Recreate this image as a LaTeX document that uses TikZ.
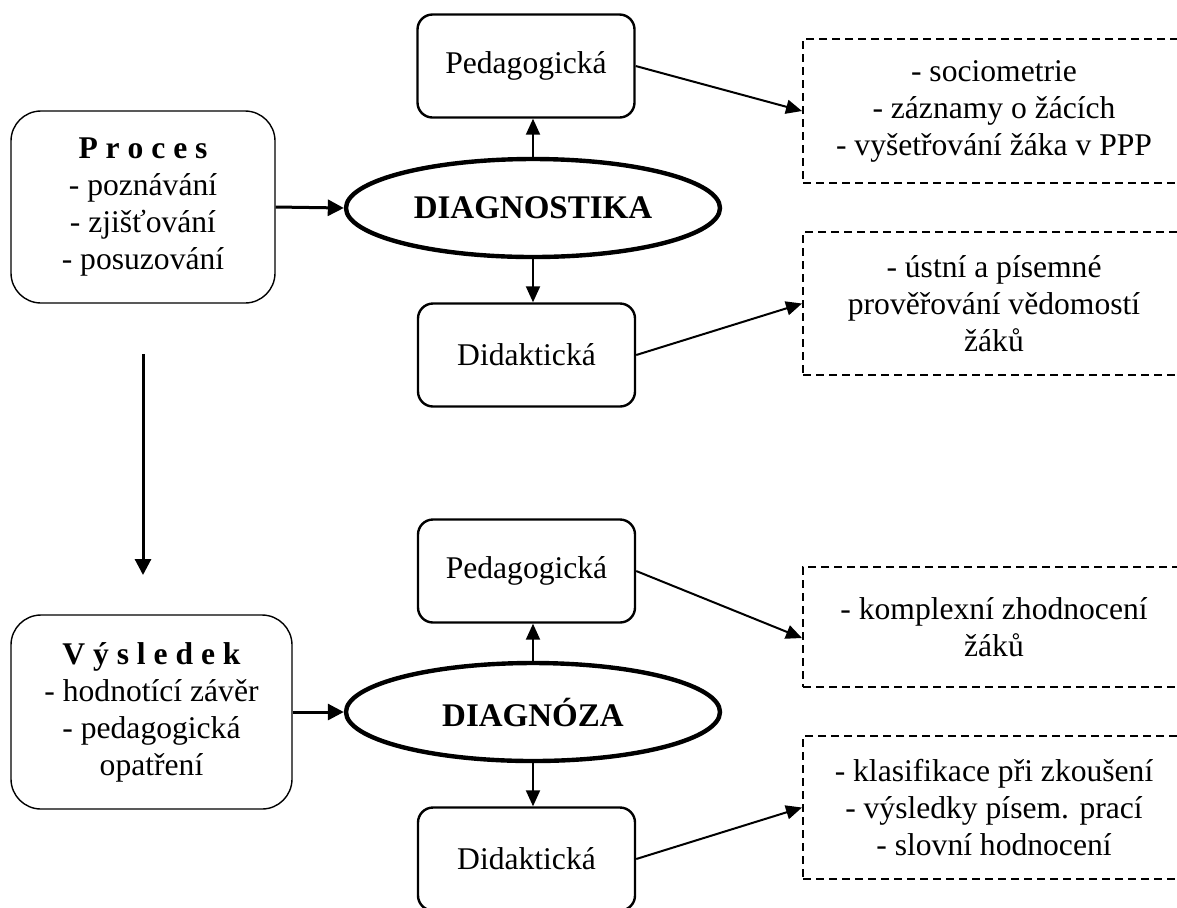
\documentclass[tikz,border=0pt]{standalone}
\usepackage{fontspec}
\setmainfont{Liberation Serif}
\usetikzlibrary{arrows.meta,shapes.geometric}

\begin{document}
\begin{tikzpicture}[x=0.5pt,y=-0.5pt,
    font=\fontsize{15.8}{18.5}\selectfont,
    mainbox/.style={draw,line width=0.7pt,rounded corners=15pt,align=center,
        inner sep=0pt,minimum width=132pt,minimum height=96pt},
    typebox/.style={draw,line width=1.2pt,rounded corners=7.5pt,inner sep=0pt,
        minimum width=108.5pt,minimum height=51.5pt},
    oval/.style={draw,ellipse,line width=2.2pt,inner sep=0pt,minimum width=187pt,
        minimum height=49pt,font=\fontsize{16.5}{18}\selectfont\bfseries},
    notebox/.style={draw,dash pattern=on 4pt off 2.5pt,line width=1pt,
        align=center,inner sep=0pt,minimum width=191pt},
    linkarrow/.style={line width=1pt,-{Triangle[length=8pt,width=7pt]}},
    flowarrow/.style={line width=1.5pt,-{Triangle[length=8pt,width=8pt]}}
]

    % Fix the frame of the picture
    \useasboundingbox (0,0) rectangle (1177,907);
    \clip (0,0) rectangle (1177,907);

    % Left boxes
    \node[mainbox] (proces) at (143,207)
        {{\bfseries P r o c e s}\\- poznávání\\- zjišťování\\- posuzování};
    \node[mainbox,minimum width=140.5pt,minimum height=97pt] (vysledek) at (151.5,712)
        {{\bfseries V ý s l e d e k}\\- hodnotící závěr\\- pedagogická\\opatření};

    % Ovals in the middle
    \node[oval] (diagnostika) at (533,208) {DIAGNOSTIKA};
    \node[oval] (diagnoza) at (533,712) {DIAGNÓZA};

    % Kinds of diagnostics
    \node[typebox] (ped1) at (526,66) {Pedagogická};
    \node[typebox] (did1) at (526.5,355) {Didaktická};
    \node[typebox] (ped2) at (526.5,571) {Pedagogická};
    \node[typebox] (did2) at (526.5,859) {Didaktická};

    % Dashed notes on the right
    \node[notebox,minimum height=72pt] (note1) at (994,111)
        {- sociometrie\\- záznamy o žácích\\- vyšetřování žáka v PPP};
    \node[notebox,minimum height=71.5pt] (note2) at (994,303.5)
        {- ústní a písemné\\prověřování vědomostí\\žáků};
    \node[notebox,minimum height=60pt] (note3) at (994,627)
        {- komplexní zhodnocení\\žáků};
    \node[notebox,minimum height=71.5pt] (note4) at (994,807.5)
        {- klasifikace při zkoušení\\- výsledky písem. prací\\- slovní hodnocení};

    % Ends of the long arrow
    \coordinate (down1) at (143,354);
    \coordinate (down2) at (143,575);

    % Thick arrows
    \draw[flowarrow] (proces.east) -- (diagnostika.west);
    \draw[flowarrow] (vysledek.east) -- (diagnoza.west);
    \draw[flowarrow] (down1) -- (down2);

    % Arrows from the ovals
    \draw[linkarrow] (diagnostika.north) -- (diagnostika.north |- ped1.south);
    \draw[linkarrow] (diagnostika.south) -- (diagnostika.south |- did1.north);
    \draw[linkarrow] (diagnoza.north) -- (diagnoza.north |- ped2.south);
    \draw[linkarrow] (diagnoza.south) -- (diagnoza.south |- did2.north);

    % Arrows to the notes
    \draw[linkarrow] (ped1.east) -- (note1.west);
    \draw[linkarrow] (did1.east) -- (note2.west);
    \draw[linkarrow] (ped2.east) -- ([yshift=-5.5pt]note3.west);
    \draw[linkarrow] (did2.east) -- (note4.west);

\end{tikzpicture}
\end{document}
